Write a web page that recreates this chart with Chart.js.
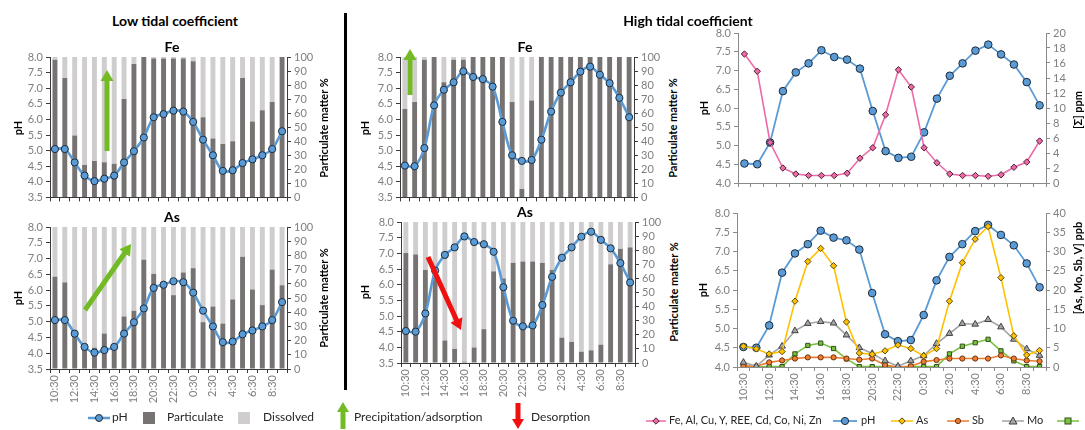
<!DOCTYPE html>
<html><head><meta charset="utf-8">
<script src="https://cdn.jsdelivr.net/npm/chart.js@4.4.1/dist/chart.umd.min.js"></script>
<style>
body{margin:0;width:1085px;height:430px;position:relative;overflow:hidden;background:#fff;font-family:Lato,"Liberation Sans",sans-serif;}
canvas{position:absolute}
.ttl{position:absolute;font-weight:bold;font-size:14px;color:#000;transform:translate(-50%,-50%);white-space:nowrap;z-index:3}
.ax{position:absolute;font-weight:bold;font-size:11px;color:#000;white-space:nowrap;transform:translate(-50%,-50%) rotate(-90deg);z-index:3}
#vline{position:absolute;left:344px;top:13px;width:3px;height:377px;background:#000}
svg{position:absolute;left:0;top:0;z-index:4}
</style>
</head><body>
<div class="ttl" style="left:175px;top:20px">Low tidal coefficient</div>
<div class="ttl" style="left:688px;top:20px">High tidal coefficient</div>
<div class="ttl" style="left:172px;top:46px">Fe</div>
<div class="ttl" style="left:172px;top:216px">As</div>
<div class="ttl" style="left:525px;top:46px">Fe</div>
<div class="ttl" style="left:525px;top:211px">As</div>

<div class="ax" style="left:17px;top:128px">pH</div>
<div class="ax" style="left:323px;top:128px">Particulate matter %</div>
<div class="ax" style="left:17px;top:298px">pH</div>
<div class="ax" style="left:323px;top:298px">Particulate matter %</div>
<div class="ax" style="left:364px;top:128px">pH</div>
<div class="ax" style="left:672px;top:128px">Particulate matter %</div>
<div class="ax" style="left:364px;top:292px">pH</div>
<div class="ax" style="left:673px;top:292px">Particulate matter %</div>
<div class="ax" style="left:703px;top:108px">pH</div>
<div class="ax" style="left:1077px;top:110px">[Σ] ppm</div>
<div class="ax" style="left:702px;top:290px">pH</div>
<div class="ax" style="left:1077px;top:268px">[As, Mo, Sb, V] ppb</div>

<div id="vline"></div>

<canvas id="c1"></canvas>
<canvas id="c2"></canvas>
<canvas id="c3"></canvas>
<canvas id="c4"></canvas>
<canvas id="c5"></canvas>
<canvas id="c6"></canvas>

<svg id="ov" width="1085" height="430"></svg>

<script>
// ---------- DATA ----------
const timeLabels = ['10:30','11:30','12:30','13:30','14:30','15:30','16:30','17:30','18:30','19:30','20:30','21:30','22:30','23:30','0:30','1:30','2:30','3:30','4:30','5:30','6:30','7:30','8:30','9:30'];
const phLow = [5.05,5.05,4.62,4.2,4.02,4.1,4.2,4.62,4.98,5.42,6.07,6.17,6.28,6.25,5.92,5.35,4.85,4.35,4.37,4.6,4.72,4.85,5.05,5.62];
const feLowParticulate = [98,85,44,23,26,25,24,70,95,100,99,99,99,99,97,57,42,38,40,85,54,62,68,100];
const asLowParticulate = [65,61,24,14,15,25,17,37,41,77,67,58,52,68,71,33,44,32,49,79,56,45,70,59];
const phHigh = [4.52,4.50,5.08,6.45,6.95,7.19,7.54,7.36,7.29,7.05,5.92,4.85,4.67,4.70,5.35,6.25,6.86,7.19,7.53,7.69,7.43,7.16,6.69,6.07];
const feHighParticulate = [63,68,98,100,82,98,98,100,100,100,100,68,6,69,100,100,100,100,100,100,100,100,100,100];
const asHighParticulate = [78,77,66,66,16,10,1,11,24,65,60,71,72,72,71,66,18,15,8,9,13,70,81,82];
const sumMetalsPpm = [17.2,14.9,5.4,2.0,1.2,1.0,1.0,1.0,1.3,3.3,4.7,9.1,15.1,12.8,4.7,2.7,1.2,1.0,1.0,0.9,1.1,2.1,2.8,5.6];
const asPpb = [5.4,4.7,3.4,4.0,17.1,27.4,30.8,26.3,11.7,3.6,3.3,4.2,5.7,4.8,2.9,4.8,17.1,27.1,33.2,36.5,23.2,8.1,3.1,4.3];
const sbPpb = [0.3,0.2,1.2,1.7,2.2,2.5,2.5,2.5,2.2,1.9,2.2,0.5,0.0,0.2,1.4,1.8,2.2,2.2,2.2,2.2,3.0,2.2,1.7,1.5];
const moPpb = [1.2,0.2,3.1,5.4,9.4,11.3,11.8,11.4,8.3,5.0,3.5,1.6,0.2,1.6,2.9,6.1,8.7,11.3,11.1,12.3,10.4,7.2,4.7,3.0];
const vPpb = [0.2,0.0,0.1,0.1,3.4,5.6,6.2,4.8,2.1,0.1,0.1,0.1,0.0,0.1,0.1,0.1,3.4,5.4,6.3,7.2,4.2,1.6,0.1,0.1];
const dissolvedOf = arr => arr.map(v => 100 - v);

// ---------- STYLE ----------
const FONT = 'Lato, "Liberation Sans", sans-serif';
const TICK = '#7f7f7f';
Chart.defaults.font.family = FONT;
Chart.defaults.animation = false;
const C_PART = '#787373', C_DISS = '#cfcdcd', C_PH = '#5b9bd5', C_PH_EDGE = '#1d2b3a';

function xScale(xh, showLabels, axisColor, stacked) {
  return {
    type: 'category', offset: true, stacked: !!stacked,
    grid: { display: true, drawOnChartArea: false, drawTicks: true, tickLength: 4, color: axisColor, offset: true },
    border: { display: true, color: axisColor, width: 1 },
    ticks: {
      display: showLabels, autoSkip: false, minRotation: 90, maxRotation: 90,
      color: TICK, font: { size: 11, family: FONT }, padding: 2,
      callback: function (v, i) { return i % 2 === 0 ? this.getLabelForValue(v) : ''; }
    },
    afterFit: s => { s.height = xh; }
  };
}
function yScale(pos, min, max, step, dec, w, axisColor, stacked) {
  return {
    type: 'linear', position: pos, min: min, max: max, stacked: !!stacked,
    ticks: { stepSize: step, autoSkip: false, maxTicksLimit: 30, color: TICK, font: { size: 11, family: FONT }, padding: 3, callback: v => v.toFixed(dec) },
    grid: { drawOnChartArea: false, drawTicks: true, tickLength: 4, color: axisColor },
    border: { display: true, color: axisColor },
    afterFit: s => { s.width = w; }
  };
}
function place(id, box, plot) {
  const cv = document.getElementById(id);
  cv.width = box.w; cv.height = box.h;
  cv.style.left = box.x + 'px'; cv.style.top = box.y + 'px';
  cv.style.width = box.w + 'px'; cv.style.height = box.h + 'px';
  return { cv, lw: plot.l - box.x, rw: box.x + box.w - plot.r, pt: plot.t - box.y, xh: box.y + box.h - plot.b };
}
function phDataset(values, smooth, width, r) {
  return {
    type: 'line', label: 'pH', data: values, yAxisID: 'y',
    borderColor: C_PH, borderWidth: width, tension: smooth ? 0.35 : 0,
    pointRadius: r, pointBackgroundColor: C_PH, pointBorderColor: C_PH_EDGE, pointBorderWidth: 1
  };
}
function barPanel(id, box, plot, ph, particulate, showLabels) {
  const g = place(id, box, plot);
  const AX = '#3a3a3a';
  return new Chart(g.cv, {
    type: 'bar',
    data: {
      labels: timeLabels,
      datasets: [
        phDataset(ph, true, 2.6, 3.6),
        { type: 'bar', label: 'Particulate', data: particulate, yAxisID: 'y1', backgroundColor: C_PART, barPercentage: 0.5, categoryPercentage: 1.0, borderWidth: 0 },
        { type: 'bar', label: 'Dissolved', data: dissolvedOf(particulate), yAxisID: 'y1', backgroundColor: C_DISS, barPercentage: 0.5, categoryPercentage: 1.0, borderWidth: 0 }
      ]
    },
    options: {
      responsive: false, animation: false,
      layout: { padding: { top: g.pt, left: 0, right: 0, bottom: 0 } },
      plugins: { legend: { display: false }, tooltip: { enabled: false }, title: { display: false } },
      scales: {
        x: xScale(g.xh, showLabels, AX, true),
        y: yScale('left', 3.5, 8, 0.5, 1, g.lw, AX, false),
        y1: yScale('right', 0, 100, 10, 0, g.rw, AX, true)
      }
    }
  });
}

barPanel('c1', { x: 20, y: 47, w: 300, h: 160 }, { l: 50, t: 57, r: 287, b: 200 }, phLow, feLowParticulate, false);
barPanel('c2', { x: 20, y: 215, w: 300, h: 190 }, { l: 50, t: 227, r: 287, b: 369 }, phLow, asLowParticulate, true);
barPanel('c3', { x: 365, y: 47, w: 300, h: 160 }, { l: 400, t: 57, r: 634, b: 200 }, phHigh, feHighParticulate, false);
barPanel('c4', { x: 365, y: 212, w: 300, h: 190 }, { l: 401, t: 222, r: 635, b: 363 }, phHigh, asHighParticulate, true);

function lineDs(label, data, color, edge, style, r, axis, width) {
  return {
    type: 'line', label: label, data: data, yAxisID: axis,
    borderColor: color, borderWidth: width, tension: 0,
    pointStyle: style, pointRadius: r, pointBackgroundColor: color, pointBorderColor: edge, pointBorderWidth: 1
  };
}
const AXR = '#8a8a8a';
(function () {
  const g = place('c5', { x: 705, y: 23, w: 375, h: 170 }, { l: 738, t: 33, r: 1046, b: 183 });
  new Chart(g.cv, {
    type: 'line',
    data: {
      labels: timeLabels,
      datasets: [
        lineDs('Fe, Al, Cu, Y, REE, Cd, Co, Ni, Zn', sumMetalsPpm, '#ee6aa7', '#4a2036', 'rectRot', 3.2, 'y1', 1.6),
        phDataset(phHigh, false, 1.8, 3.8)
      ]
    },
    options: {
      responsive: false, animation: false,
      layout: { padding: { top: g.pt, left: 0, right: 0, bottom: 0 } },
      plugins: { legend: { display: false }, tooltip: { enabled: false } },
      scales: {
        x: xScale(g.xh, false, AXR, false),
        y: yScale('left', 4, 8, 0.5, 1, g.lw, AXR, false),
        y1: yScale('right', 0, 20, 2, 0, g.rw, AXR, false)
      }
    }
  });
})();
(function () {
  const g = place('c6', { x: 705, y: 203, w: 375, h: 200 }, { l: 737, t: 213, r: 1046, b: 367 });
  new Chart(g.cv, {
    type: 'line',
    data: {
      labels: timeLabels,
      datasets: [
        lineDs('As', asPpb, '#ffc000', '#5a4a10', 'rectRot', 3.2, 'y1', 1.6),
        phDataset(phHigh, false, 1.8, 3.8),
        lineDs('Mo', moPpb, '#a5a5a5', '#404040', 'triangle', 3.8, 'y1', 1.6),
        lineDs('Sb', sbPpb, '#ed7d31', '#6a3512', 'circle', 2.6, 'y1', 1.6),
        lineDs('V', vPpb, '#7cc242', '#2f4f1a', 'rect', 3.0, 'y1', 1.6)
      ]
    },
    options: {
      responsive: false, animation: false,
      layout: { padding: { top: g.pt, left: 0, right: 0, bottom: 0 } },
      plugins: { legend: { display: false }, tooltip: { enabled: false } },
      scales: {
        x: xScale(g.xh, true, AXR, false),
        y: yScale('left', 4, 8, 0.5, 1, g.lw, AXR, false),
        y1: yScale('right', 0, 40, 5, 0, g.rw, AXR, false)
      }
    }
  });
})();

// ---------- ARROWS & LEGEND (overlay) ----------
const NS = 'http://www.w3.org/2000/svg';
const ov = document.getElementById('ov');
function el(tag, attrs, text) {
  const e = document.createElementNS(NS, tag);
  for (const k in attrs) e.setAttribute(k, attrs[k]);
  if (text !== undefined) e.textContent = text;
  ov.appendChild(e);
  return e;
}
function arrow(x1, y1, x2, y2, shaft, headW, headL, color) {
  const dx = x2 - x1, dy = y2 - y1, L = Math.hypot(dx, dy);
  const ux = dx / L, uy = dy / L, px = -uy, py = ux;
  const bx = x2 - ux * headL, by = y2 - uy * headL;
  const p = [
    [x1 + px * shaft / 2, y1 + py * shaft / 2], [bx + px * shaft / 2, by + py * shaft / 2],
    [bx + px * headW / 2, by + py * headW / 2], [x2, y2],
    [bx - px * headW / 2, by - py * headW / 2], [bx - px * shaft / 2, by - py * shaft / 2],
    [x1 - px * shaft / 2, y1 - py * shaft / 2]
  ];
  el('polygon', { points: p.map(q => q.join(',')).join(' '), fill: color });
}
const GREEN = '#72bb25', RED = '#f01010';
arrow(107, 151, 107, 70, 5, 13, 11, GREEN);
arrow(85, 310, 131, 244, 5, 13, 11, GREEN);
arrow(410, 95, 410, 49, 5, 13, 11, GREEN);
arrow(428, 257, 461, 330, 5, 13, 11, RED);

function txt(x, y, s, size) {
  el('text', { x: x, y: y, 'font-size': size, 'font-family': FONT, fill: '#262626', 'dominant-baseline': 'middle' }, s);
}
const LY = 418;
el('line', { x1: 88, y1: LY, x2: 110, y2: LY, stroke: C_PH, 'stroke-width': 2.5 });
el('circle', { cx: 99, cy: LY, r: 3.5, fill: C_PH, stroke: C_PH_EDGE, 'stroke-width': 1 });
txt(112, LY, 'pH', 12);
el('rect', { x: 143, y: LY - 6, width: 12, height: 12, fill: C_PART });
txt(167, LY, 'Particulate', 12);
el('rect', { x: 238, y: LY - 6, width: 12, height: 12, fill: C_DISS });
txt(263, LY, 'Dissolved', 12);
arrow(343, 429, 343, 402, 5, 12, 10, GREEN);
txt(354, LY, 'Precipitation/adsorption', 12);
arrow(518, 403, 518, 429, 5, 12, 10, RED);
txt(531, LY, 'Desorption', 12);

const RY = 421;
function legLine(x1, x2, color, width) { el('line', { x1: x1, y1: RY, x2: x2, y2: RY, stroke: color, 'stroke-width': width }); }
function diamond(cx, r, fill, edge) { el('polygon', { points: `${cx},${RY - r} ${cx + r},${RY} ${cx},${RY + r} ${cx - r},${RY}`, fill: fill, stroke: edge, 'stroke-width': 1 }); }
legLine(646, 666, '#ee6aa7', 1.5); diamond(656, 3.2, '#ee6aa7', '#4a2036');
txt(669, RY, 'Fe, Al, Cu, Y, REE, Cd, Co, Ni, Zn', 11);
legLine(833, 857, C_PH, 1.8); el('circle', { cx: 845, cy: RY, r: 3.6, fill: C_PH, stroke: C_PH_EDGE, 'stroke-width': 1 });
txt(861, RY, 'pH', 11);
legLine(891, 913, '#ffc000', 1.5); diamond(902, 3.2, '#ffc000', '#5a4a10');
txt(916, RY, 'As', 11);
legLine(947, 969, '#ed7d31', 1.5); el('circle', { cx: 958, cy: RY, r: 2.6, fill: '#ed7d31', stroke: '#6a3512', 'stroke-width': 1 });
txt(972, RY, 'Sb', 11);
legLine(1002, 1024, '#a5a5a5', 1.5); el('polygon', { points: `1013,${RY - 4} 1017,${RY + 3} 1009,${RY + 3}`, fill: '#a5a5a5', stroke: '#404040', 'stroke-width': 1 });
txt(1027, RY, 'Mo', 11);
legLine(1057, 1079, '#7cc242', 1.5); el('rect', { x: 1065, y: RY - 3, width: 6, height: 6, fill: '#7cc242', stroke: '#2f4f1a', 'stroke-width': 1 });
</script>
</body></html>
